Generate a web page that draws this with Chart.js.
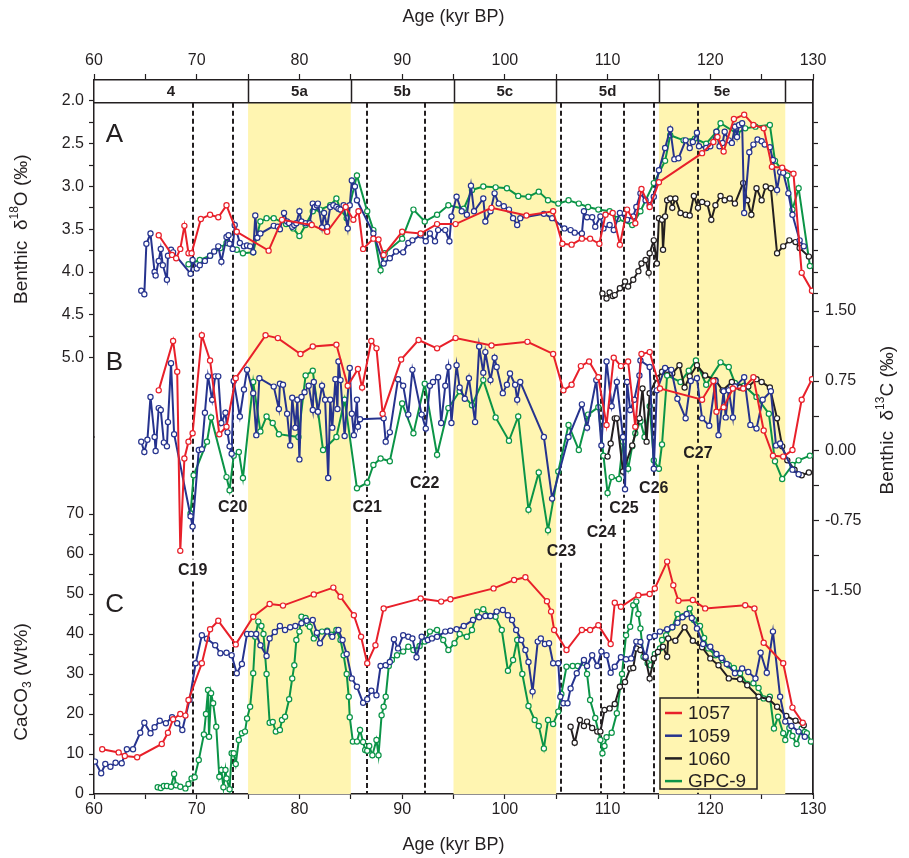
<!DOCTYPE html>
<html>
<head>
<meta charset="utf-8">
<script src="https://cdn.jsdelivr.net/npm/chart.js@4.4.1/dist/chart.umd.min.js"></script>
<style>
  html, body { margin: 0; padding: 0; background: #fff; }
  #wrap { width: 909px; height: 858px; }
</style>
</head>
<body>
<div id="wrap"><canvas id="chart" width="909" height="858"></canvas></div>
<script>
// ---- data: [age (kyr BP), value] ----

// Panel A: benthic d18O (permil)
const d18O_1057 = [[66.3,3.57],[67.6,3.80],[68.0,3.84],[68.4,3.73],[68.8,3.46],[69.2,3.78],[69.5,3.78],[70.4,3.38],[71.3,3.33],[72.1,3.36],[72.9,3.22],[73.9,3.53],[77.0,3.75],[78.3,3.39],[81.2,3.45],[82.7,3.53],[84.5,3.24],[85.25,3.39],[85.75,3.29],[86.2,3.73],[87.2,3.61],[87.7,3.62],[88.2,3.80],[90.0,3.53],[91.8,3.55],[93.4,3.44],[95.2,3.44],[98.7,3.25],[102.1,3.34],[104.7,3.29],[105.6,3.67],[106.5,3.68],[107.5,3.61],[108.3,3.61],[109.2,3.67],[109.8,3.33],[110.5,3.31],[111.2,3.68],[111.9,3.27],[112.7,3.43],[113.3,3.03],[114.1,3.24],[115.0,2.95],[119.2,2.61],[120.3,2.48],[120.7,2.42],[121.3,2.59],[122.3,2.21],[123.3,2.16],[124.2,2.28],[125.2,2.32],[126.0,2.77],[127.0,2.78],[128.1,2.85],[128.9,4.01],[129.9,4.22]];
const d18O_1059 = [[64.6,4.22],[64.9,4.26],[65.1,3.67],[65.5,3.55],[65.9,4.00],[66.0,4.04],[66.3,3.87],[66.5,3.73],[66.7,3.92],[67.1,4.09],[67.2,3.81],[67.5,3.74],[67.7,3.77],[69.4,4.02],[69.6,3.86],[70.0,3.96],[70.3,3.92],[70.8,3.87],[71.3,3.81],[71.7,3.76],[72.1,3.70],[72.4,3.88],[72.9,3.59],[73.1,3.57],[73.2,3.67],[73.5,3.73],[73.7,3.45],[74.2,3.66],[74.6,3.70],[74.9,3.69],[75.2,3.70],[75.5,3.77],[75.7,3.34],[75.9,3.60],[76.2,3.55],[77.5,3.46],[77.9,3.47],[78.1,3.50],[78.5,3.31],[78.8,3.41],[79.0,3.43],[79.3,3.47],[79.5,3.45],[79.7,3.43],[80.0,3.29],[80.2,3.41],[80.6,3.43],[81.0,3.43],[81.3,3.20],[81.5,3.24],[81.7,3.22],[81.8,3.20],[82.2,3.48],[82.4,3.31],[82.7,3.47],[83.0,3.24],[83.3,3.22],[83.6,3.24],[83.8,3.26],[84.0,3.27],[84.3,3.22],[84.7,3.49],[84.9,3.22],[85.1,2.93],[85.4,3.00],[85.6,3.16],[87.2,3.55],[88.2,3.90],[88.8,3.84],[89.4,3.76],[90.1,3.77],[90.6,3.66],[91.0,3.63],[91.8,3.57],[92.3,3.64],[92.7,3.55],[93.2,3.64],[93.5,3.51],[94.2,3.51],[94.6,3.64],[94.8,3.35],[95.3,3.12],[95.8,3.29],[96.3,3.33],[96.7,2.99],[97.0,3.29],[97.9,3.14],[98.1,3.41],[98.6,3.29],[99.0,3.08],[99.4,3.20],[99.9,3.23],[100.4,3.27],[100.8,3.37],[101.2,3.45],[101.5,3.37],[103.8,3.32],[104.6,3.37],[105.8,3.49],[106.4,3.51],[106.8,3.54],[107.5,3.55],[107.7,3.29],[108.0,3.36],[108.5,3.36],[108.8,3.47],[109.3,3.35],[109.6,3.49],[110.2,3.45],[110.6,3.51],[111.2,3.31],[111.9,3.39],[112.5,3.35],[112.8,3.24],[113.2,3.08],[113.7,3.16],[114.1,3.22],[114.5,3.12],[115.0,2.81],[115.6,2.55],[116.1,2.33],[116.5,2.68],[116.9,2.67],[117.6,2.46],[118.0,2.55],[118.3,2.48],[118.7,2.37],[118.9,2.53],[119.6,2.55],[120.0,2.53],[120.6,2.36],[120.9,2.53],[121.2,2.49],[121.4,2.36],[121.8,2.46],[122.1,2.49],[122.4,2.30],[122.6,2.42],[122.8,2.28],[123.1,2.26],[123.3,3.31],[123.8,2.60],[124.2,2.51],[124.6,2.45],[125.0,2.47],[125.3,2.51],[125.8,2.54],[126.1,2.69],[126.5,3.04],[126.8,2.83],[127.1,2.84],[127.6,3.08],[128.0,3.33],[128.7,3.63],[129.1,3.70]];
const d18O_1060 = [[109.5,4.25],[109.9,4.31],[110.2,4.24],[110.5,4.28],[110.7,4.27],[111.2,4.19],[111.7,4.11],[112.0,4.17],[112.5,4.09],[113.0,3.99],[113.3,3.90],[113.7,3.86],[114.0,4.01],[114.1,3.78],[114.5,3.63],[114.8,3.90],[115.0,3.37],[115.3,3.39],[115.4,3.74],[115.6,3.35],[115.8,3.16],[116.1,3.14],[116.3,3.25],[116.6,3.14],[117.1,3.31],[117.6,3.33],[118.0,3.34],[118.4,3.11],[118.8,3.25],[119.2,3.18],[119.7,3.20],[120.1,3.39],[120.5,3.22],[121.0,3.11],[121.4,3.16],[121.9,3.14],[122.4,3.20],[123.2,2.96],[123.6,3.16],[124.0,3.33],[124.5,3.02],[125.0,3.16],[125.4,3.00],[125.9,3.02],[126.5,3.78],[127.1,3.70],[127.7,3.63],[128.3,3.65],[128.7,3.72],[129.6,3.82]];
const d18O_GPC9 = [[69.2,3.91],[70.3,3.86],[71.3,3.81],[72.3,3.72],[72.9,3.66],[73.9,3.74],[74.5,3.78],[75.5,3.77],[76.2,3.41],[76.8,3.37],[77.5,3.37],[78.7,3.44],[79.4,3.49],[80.0,3.58],[80.6,3.45],[81.3,3.29],[82.0,3.27],[83.0,3.22],[83.6,3.14],[84.0,3.27],[84.6,3.37],[85.6,2.87],[86.6,3.29],[87.2,3.51],[87.9,3.98],[88.3,3.78],[90.0,3.61],[91.1,3.27],[92.2,3.41],[93.4,3.33],[94.5,3.22],[96.0,3.26],[96.8,3.04],[97.9,3.00],[99.1,3.01],[100.2,3.02],[101.3,3.11],[102.3,3.12],[103.3,3.06],[104.2,3.16],[105.2,3.20],[106.2,3.16],[107.2,3.20],[108.1,3.24],[109.1,3.27],[110.2,3.29],[111.0,3.38],[112.4,3.45],[113.2,3.29],[114.5,2.96],[115.6,2.70],[116.1,2.40],[117.4,2.46],[118.5,2.44],[119.6,2.50],[120.6,2.36],[121.0,2.26],[122.6,2.38],[123.4,2.32],[124.4,2.30],[125.8,2.28],[126.3,2.70],[127.0,2.81],[127.5,2.87],[128.0,3.27],[128.6,3.02],[129.7,3.93]];

// Panel B: benthic d13C (permil)
const d13C_1057 = [[66.3,0.65],[67.7,1.18],[68.1,0.85],[68.4,-1.07],[68.8,-0.08],[69.2,0.10],[69.6,0.19],[70.5,1.24],[71.3,0.97],[72.2,0.18],[72.9,0.26],[73.8,0.78],[76.7,1.24],[77.9,1.21],[80.1,1.04],[81.3,1.12],[83.6,1.14],[84.7,0.70],[85.7,0.88],[86.1,0.68],[87.0,1.18],[87.5,1.10],[88.1,0.40],[89.9,0.98],[91.6,1.19],[93.4,1.10],[95.2,1.21],[98.7,1.13],[102.2,1.17],[104.7,1.04],[105.7,0.65],[106.5,0.71],[107.4,0.91],[108.2,0.96],[109.1,0.79],[109.9,0.28],[110.6,1.00],[111.3,0.91],[112.0,0.96],[112.7,0.26],[113.3,1.04],[114.1,1.06],[115.1,0.67],[119.2,0.55],[120.3,0.75],[120.6,0.42],[121.3,0.47],[122.2,0.67],[123.2,0.67],[124.2,0.79],[125.2,0.22],[126.1,-0.05],[127.1,-0.06],[128.0,0.01],[128.9,0.55],[129.9,0.77]];
const d13C_1059 = [[64.6,0.10],[64.9,-0.01],[65.2,0.12],[65.5,0.58],[65.9,0.15],[66.0,0.00],[66.3,0.46],[66.5,0.44],[66.8,0.09],[67.1,0.05],[67.2,0.31],[67.5,0.94],[67.8,0.18],[69.4,-0.70],[69.6,-0.81],[70.2,0.01],[70.5,0.02],[70.8,0.41],[71.1,0.80],[71.5,0.55],[71.8,0.80],[72.1,0.80],[72.4,0.30],[72.8,0.41],[73.0,0.20],[73.2,0.05],[73.4,-0.03],[73.6,0.75],[74.2,0.37],[74.6,0.66],[74.9,0.87],[75.5,0.62],[75.8,0.17],[76.1,0.78],[77.5,0.69],[78.0,0.45],[78.1,0.72],[78.4,0.71],[78.8,0.40],[79.1,0.06],[79.3,0.57],[79.6,0.25],[79.8,0.55],[80.0,-0.09],[80.2,0.58],[80.5,0.63],[80.9,0.70],[81.3,0.44],[81.4,0.74],[81.8,0.42],[82.2,0.70],[82.5,0.55],[82.8,-0.29],[83.0,0.55],[83.2,0.25],[83.5,0.77],[83.7,0.45],[83.8,0.96],[84.0,0.76],[84.4,0.16],[84.9,0.89],[85.1,0.40],[85.3,0.17],[85.6,0.55],[85.7,0.26],[85.9,0.34],[88.2,0.35],[88.4,0.10],[88.8,0.20],[89.6,0.77],[90.1,0.70],[90.6,0.39],[91.0,0.87],[91.9,0.39],[92.3,0.24],[92.7,0.70],[93.0,0.74],[93.5,0.79],[93.8,0.30],[94.2,0.70],[94.5,0.90],[94.8,0.30],[95.3,0.92],[95.6,0.68],[96.1,0.56],[96.5,0.78],[97.1,0.31],[97.5,1.12],[97.9,0.84],[98.1,1.06],[98.6,0.76],[99.0,1.00],[99.2,0.90],[99.8,0.62],[100.2,0.71],[100.5,0.83],[101.0,0.71],[101.2,0.55],[101.5,0.74],[103.8,0.15],[104.6,-0.51],[106.2,0.15],[107.5,0.50],[108.0,0.25],[108.9,0.76],[109.4,0.06],[109.9,0.96],[110.4,0.48],[110.9,0.74],[111.5,0.15],[111.7,-0.41],[111.9,0.74],[112.2,0.44],[112.6,0.55],[113.1,0.81],[113.2,0.97],[114.1,0.90],[114.5,-0.19],[114.8,0.65],[115.6,0.89],[116.2,0.87],[116.8,0.56],[117.6,0.35],[118.1,0.75],[118.7,0.78],[119.2,0.35],[119.9,0.27],[120.5,0.75],[120.8,0.17],[121.3,0.64],[121.5,0.36],[121.8,0.65],[122.2,0.36],[122.4,0.69],[123.3,0.79],[123.9,0.28],[124.5,0.24],[125.1,0.55],[125.9,0.64],[126.4,0.06],[126.8,0.08],[128.0,-0.20],[128.6,-0.25]];
const d13C_1060 = [[110.0,-0.06],[110.3,0.08],[110.7,0.35],[110.9,0.35],[111.5,-0.22],[112.4,0.06],[113.1,0.35],[113.4,0.67],[113.8,0.10],[114.1,0.62],[114.8,0.78],[115.3,0.85],[115.8,0.87],[116.3,0.83],[117.0,0.92],[117.5,0.68],[118.0,0.80],[118.7,0.92],[119.5,0.81],[120.5,0.76],[121.2,0.65],[122.1,0.74],[122.9,0.68],[123.7,0.69],[124.5,0.77],[125.0,0.74],[125.8,0.68],[126.5,0.35],[127.0,0.05],[127.5,-0.10],[128.2,-0.20],[128.9,-0.26],[129.6,-0.23]];
const d13C_GPC9 = [[69.4,-0.67],[69.7,-0.26],[71.0,0.10],[71.4,0.36],[72.9,-0.28],[73.2,-0.42],[73.6,-0.05],[74.1,-0.01],[74.5,-0.29],[75.5,0.74],[76.2,0.21],[76.8,0.37],[77.4,0.30],[78.0,0.18],[79.9,0.15],[80.6,0.81],[81.3,0.86],[82.3,0.01],[83.6,0.15],[84.4,0.55],[85.6,-0.40],[86.6,-0.34],[87.2,-0.15],[87.9,-0.08],[88.8,-0.11],[90.0,0.51],[91.1,0.19],[92.2,0.72],[93.4,-0.04],[94.5,0.46],[95.6,0.64],[96.8,0.49],[97.9,0.76],[99.1,0.36],[100.4,0.11],[101.3,0.37],[102.3,-0.63],[103.3,-0.23],[104.2,-0.85],[105.2,-0.22],[106.2,0.28],[107.2,0.01],[108.1,0.39],[109.1,0.47],[109.6,-0.05],[110.0,-0.45],[110.4,-0.28],[111.1,-0.30],[111.5,0.10],[112.0,-0.19],[112.4,0.05],[112.7,0.19],[113.2,0.32],[113.6,0.15],[114.1,0.48],[114.5,-0.10],[115.0,-0.19],[115.3,0.07],[115.8,0.81],[117.1,0.74],[117.9,0.86],[118.6,0.97],[119.6,0.71],[121.0,0.95],[121.8,0.90],[122.4,0.73],[123.3,0.70],[124.5,0.58],[125.7,0.40],[126.3,-0.11],[127.0,-0.30],[128.0,-0.15],[128.6,-0.10],[129.7,-0.05]];

// Panel C: CaCO3 (wt%)
const caco3_1057 = [[60.8,11.2],[62.4,10.4],[63.0,9.5],[64.2,9.2],[66.6,12.5],[67.2,15.3],[67.7,18.7],[68.4,20.0],[68.9,19.6],[69.2,23.5],[70.5,32.7],[71.3,41.2],[72.1,43.3],[73.8,37.4],[75.5,44.3],[77.1,47.5],[78.4,47.1],[81.4,49.9],[83.3,51.6],[84.0,49.3],[85.3,44.7],[86.0,39.3],[86.6,32.7],[87.4,37.2],[88.2,46.4],[91.8,48.9],[93.8,48.1],[94.7,48.7],[98.9,51.4],[100.9,53.5],[102.0,54.2],[104.1,48.2],[104.5,45.6],[104.8,41.0],[106.0,36.0],[107.5,41.0],[108.3,41.0],[109.1,42.2],[110.3,37.5],[110.7,47.8],[111.3,46.8],[113.0,49.7],[114.1,50.0],[114.6,51.4],[115.8,58.1],[116.4,52.2],[116.9,48.3],[118.3,48.5],[119.5,46.4],[123.4,47.2],[124.3,46.4],[125.2,37.8],[127.1,32.7],[128.0,21.6],[129.0,17.8]];
const caco3_1059 = [[60.1,8.1],[60.7,5.2],[61.1,7.5],[61.6,6.8],[62.1,7.8],[62.7,7.7],[63.2,11.2],[63.8,11.2],[64.5,15.3],[64.9,17.8],[65.5,15.2],[65.9,16.7],[66.4,18.3],[67.0,17.7],[67.6,19.2],[68.1,17.7],[68.6,16.0],[69.3,23.5],[69.9,32.7],[70.5,39.7],[71.0,38.8],[71.8,37.2],[72.3,35.2],[72.9,35.3],[73.4,34.7],[73.9,30.2],[74.4,32.5],[74.9,40.0],[75.3,40.0],[75.8,40.0],[76.2,37.2],[76.8,34.5],[77.1,38.9],[77.6,40.5],[78.1,42.0],[78.6,41.0],[79.1,41.7],[79.6,42.0],[80.2,42.7],[80.7,43.3],[81.3,43.5],[81.7,40.3],[82.0,37.7],[82.7,40.6],[83.2,39.3],[83.8,41.0],[84.2,38.5],[84.6,35.0],[85.1,28.9],[85.6,26.8],[86.2,22.8],[86.6,23.7],[87.0,25.8],[87.5,24.7],[87.9,32.0],[88.4,32.2],[88.8,33.0],[89.2,38.7],[89.6,36.4],[90.1,39.7],[90.6,39.3],[91.0,38.9],[91.4,34.2],[91.9,39.3],[92.5,38.5],[92.9,38.9],[93.4,39.3],[94.2,40.6],[94.7,40.8],[95.3,41.2],[96.0,42.0],[96.9,43.5],[97.5,44.2],[98.1,44.5],[98.6,44.5],[99.2,45.6],[99.8,46.0],[100.3,44.7],[100.7,43.5],[101.1,41.0],[101.6,38.5],[102.0,36.0],[102.3,33.0],[102.7,25.6],[103.2,38.1],[103.5,38.9],[103.9,37.5],[104.3,37.7],[104.7,32.7],[105.2,32.7],[105.4,24.3],[105.7,22.7],[106.1,22.7],[106.4,26.4],[107.0,30.2],[107.7,33.5],[108.0,32.0],[108.5,34.7],[109.0,32.0],[109.4,35.6],[109.9,34.7],[110.3,30.3],[110.7,31.8],[111.3,34.2],[111.8,33.7],[112.3,33.9],[112.8,38.1],[113.2,38.0],[113.7,34.3],[114.1,39.2],[114.6,39.5],[115.1,40.6],[115.8,41.2],[116.3,41.7],[116.8,42.8],[117.3,44.2],[117.7,45.0],[118.2,44.0],[118.7,41.4],[119.3,37.5],[120.0,36.8],[120.6,35.0],[121.1,34.0],[121.6,32.5],[122.4,30.2],[123.1,31.4],[123.7,30.5],[124.4,28.9],[124.9,35.3],[125.5,30.3],[126.1,40.6],[126.8,24.3],[127.3,18.1],[127.9,17.0],[128.6,15.6],[129.2,14.3]];
const caco3_1060 = [[106.4,16.8],[106.8,12.8],[107.3,18.5],[107.7,17.0],[108.0,18.1],[108.5,16.5],[109.0,15.6],[109.3,15.6],[109.7,21.0],[110.2,21.4],[110.7,22.5],[111.2,26.8],[111.7,28.0],[112.2,31.4],[112.5,31.5],[112.8,36.4],[113.2,36.0],[113.7,34.0],[114.1,28.9],[114.5,33.9],[114.9,35.5],[115.4,36.8],[115.8,34.3],[115.9,38.9],[116.6,38.3],[117.5,41.7],[118.3,38.3],[119.2,36.7],[120.0,33.9],[120.8,32.2],[121.8,28.9],[122.9,28.7],[123.6,27.2],[124.7,24.3],[125.7,23.7],[126.5,21.8],[127.4,19.5],[128.3,18.3],[129.1,17.2]];
const caco3_GPC9 = [[66.2,1.7],[66.5,1.5],[66.8,2.0],[67.1,2.0],[67.5,1.8],[67.8,5.0],[68.0,2.2],[68.4,1.8],[68.9,1.4],[69.2,2.5],[69.5,3.9],[69.8,4.2],[70.2,8.5],[70.7,14.9],[70.9,20.0],[71.1,26.0],[71.2,14.3],[71.4,25.2],[71.6,22.7],[71.9,16.8],[72.2,4.3],[72.4,6.0],[72.6,1.7],[72.8,6.0],[72.9,3.9],[73.2,1.2],[73.4,10.2],[73.6,10.2],[73.8,7.5],[74.1,13.5],[74.4,15.2],[74.7,15.6],[74.9,18.9],[75.2,21.8],[75.5,30.2],[75.7,39.3],[76.0,43.1],[76.3,42.0],[76.5,40.0],[76.8,30.0],[77.1,17.8],[77.4,18.0],[77.7,15.6],[78.1,16.0],[78.3,18.5],[78.6,19.3],[79.0,23.7],[79.3,28.9],[79.5,32.2],[79.7,38.5],[80.0,40.6],[80.2,44.3],[80.6,44.0],[80.8,42.5],[81.0,41.8],[81.4,38.9],[81.7,39.8],[82.2,40.6],[82.7,40.8],[83.1,39.8],[83.6,41.0],[84.0,38.5],[84.3,34.7],[84.6,30.0],[84.8,24.3],[84.9,19.2],[85.2,13.1],[85.6,13.1],[85.9,16.0],[86.2,13.0],[86.4,11.0],[86.6,10.8],[86.8,12.0],[87.1,9.7],[87.5,13.5],[87.7,9.7],[88.0,19.7],[88.2,21.8],[88.4,24.3],[88.7,32.0],[89.0,33.5],[89.5,34.7],[90.1,35.6],[90.6,36.8],[91.1,36.0],[91.7,37.0],[92.2,38.1],[92.7,40.6],[93.4,41.0],[94.0,38.5],[94.5,36.0],[95.1,37.7],[95.6,40.0],[96.3,39.3],[96.8,41.0],[97.3,45.6],[97.9,46.2],[98.5,44.5],[99.1,44.3],[99.7,41.0],[100.3,30.8],[100.8,33.5],[101.2,38.5],[101.7,30.0],[102.3,22.0],[102.9,18.5],[103.3,17.0],[103.8,11.4],[104.2,18.5],[104.7,17.5],[105.2,20.6],[105.5,25.0],[106.0,31.8],[106.6,32.0],[107.1,32.0],[107.7,32.8],[108.0,30.0],[108.3,23.5],[108.8,19.0],[109.3,13.5],[109.5,10.2],[109.7,12.0],[109.9,14.2],[110.4,15.3],[110.9,20.2],[111.4,30.0],[111.8,39.7],[112.2,41.8],[112.5,47.2],[112.8,48.1],[113.0,45.0],[113.2,41.4],[113.5,34.3],[113.9,32.7],[114.2,32.2],[114.6,35.0],[115.1,36.4],[115.3,38.5],[115.7,39.7],[116.3,41.7],[116.8,45.0],[117.4,44.5],[118.0,46.4],[118.4,43.5],[119.0,42.0],[119.4,39.0],[119.8,36.4],[120.5,34.7],[121.2,33.5],[121.8,32.2],[122.3,31.5],[122.9,30.2],[123.6,27.5],[124.2,27.7],[124.7,26.5],[125.2,23.9],[125.8,24.3],[126.2,16.4],[126.6,19.3],[127.1,15.2],[127.3,13.5],[127.7,16.5],[128.0,14.5],[128.4,12.5],[128.9,16.4],[129.2,15.5],[129.4,15.2],[129.8,13.1]];

// Marine isotope substages (top strip) and warm substages (shaded)
const stageNames = ['4', '5a', '5b', '5c', '5d', '5e'];
const stageBounds = [60, 75, 85, 95, 105, 115, 127.3];
const warmBands = [[75, 85], [95, 105], [115, 127.3]];

// Cold events C19..C27: age of dashed line, label position in d13C units
const eventNames = ['C19', 'C20', 'C21', 'C22', 'C23', 'C24', 'C25', 'C26', 'C27'];
const eventAges = [69.6, 73.5, 86.6, 92.2, 105.5, 109.4, 111.6, 114.5, 118.8];
const eventLabelD13C = [-1.28, -0.61, -0.61, -0.35, -1.08, -0.87, -0.62, -0.40, -0.03];

// Axis ticks
const ageTicks = [60, 65, 70, 75, 80, 85, 90, 95, 100, 105, 110, 115, 120, 125, 130];
const d18OTicks = [2.0, 2.25, 2.5, 2.75, 3.0, 3.25, 3.5, 3.75, 4.0, 4.25, 4.5, 4.75, 5.0];
const d18ORightTicks = [2.25, 2.5, 2.75, 3.0, 3.25, 3.5, 3.75, 4.0, 4.25];
const d13CTicks = [1.5, 1.125, 0.75, 0.375, 0, -0.375, -0.75, -1.125, -1.5];
const caco3Ticks = [0, 5, 10, 15, 20, 25, 30, 35, 40, 45, 50, 55, 60, 65, 70];

const seriesNames = ['1057', '1059', '1060', 'GPC-9'];
const COLORS = { '1057': '#E8202A', '1059': '#26338E', '1060': '#231F20', 'GPC-9': '#0B9447' };
const FONT = "'Liberation Sans', Arial, Helvetica, sans-serif";
const INK = '#231F20';
const BAND = '#FFF5B1';

Chart.defaults.font.family = FONT;
Chart.defaults.color = INK;

function series(label, pts, axis) {
    const color = COLORS[label];
    return {
        label: label,
        yAxisID: axis,
        xAxisID: 'x',
        data: pts.map(p => ({ x: p[0], y: p[1] })),
        borderColor: color,
        backgroundColor: '#fff',
        borderWidth: 2,
        pointRadius: 2.6,
        pointHoverRadius: 2.6,
        pointBorderWidth: 1.2,
        pointBackgroundColor: '#fff',
        pointBorderColor: color,
        tension: 0,
        fill: false
    };
}

// fixed-size axes so the plot frame sits where the original one does
const fixWidth = w => scale => { scale.width = w; };
const fixHeight = h => scale => { scale.height = h; };
const useTicks = list => axis => { axis.ticks = list.map(v => ({ value: v })); };

function tickAxisStyle(len) {
    return {
        grid: { display: true, drawOnChartArea: false, drawTicks: true, tickLength: len, color: INK, tickWidth: 1.2 },
        border: { display: true, color: INK, width: 1.5 }
    };
}

// text with super/subscripts: parts = [[text, 'n'|'sup'|'sub'], ...]
function drawRich(ctx, parts, x, y, size, rotation) {
    ctx.save();
    ctx.translate(x, y);
    ctx.rotate(rotation);
    const fontFor = kind => (kind === 'n' ? size : Math.round(size * 0.62)) + 'px ' + FONT;
    let total = 0;
    parts.forEach(([t, k]) => { ctx.font = fontFor(k); total += ctx.measureText(t).width; });
    let cx = -total / 2;
    ctx.textBaseline = 'middle';
    ctx.textAlign = 'left';
    ctx.fillStyle = INK;
    parts.forEach(([t, k]) => {
        ctx.font = fontFor(k);
        const dy = k === 'sup' ? -size * 0.38 : (k === 'sub' ? size * 0.28 : 0);
        ctx.fillText(t, cx, dy);
        cx += ctx.measureText(t).width;
    });
    ctx.restore();
}

const decorPlugin = {
    id: 'decor',
    beforeDatasetsDraw(chart) {
        const { ctx, chartArea, scales } = chart;
        const x = scales.x;
        const stripTop = chartArea.top;
        const stripBottom = scales.yA.getPixelForValue(2.02);
        ctx.save();
        // warm substages
        ctx.fillStyle = BAND;
        warmBands.forEach(([a, b]) => {
            const x1 = x.getPixelForValue(a), x2 = x.getPixelForValue(b);
            ctx.fillRect(x1, stripBottom, x2 - x1, chartArea.bottom - stripBottom);
        });
        // substage strip
        ctx.strokeStyle = INK;
        ctx.lineWidth = 1.5;
        ctx.beginPath();
        ctx.moveTo(chartArea.left, stripBottom);
        ctx.lineTo(chartArea.right, stripBottom);
        stageBounds.slice(1).forEach(v => {
            const px = Math.round(x.getPixelForValue(v)) + 0.5;
            ctx.moveTo(px, stripTop);
            ctx.lineTo(px, stripBottom);
        });
        ctx.stroke();
        ctx.fillStyle = INK;
        ctx.font = 'bold 15px ' + FONT;
        ctx.textAlign = 'center';
        ctx.textBaseline = 'middle';
        stageNames.forEach((n, i) => {
            const cx = (x.getPixelForValue(stageBounds[i]) + x.getPixelForValue(stageBounds[i + 1])) / 2;
            ctx.fillText(n, cx, (stripTop + stripBottom) / 2 + 1);
        });
        // event lines, broken where the label sits
        ctx.setLineDash([5, 3]);
        ctx.lineWidth = 2;
        eventAges.forEach((age, i) => {
            const px = Math.round(x.getPixelForValue(age));
            const ly = scales.yB.getPixelForValue(eventLabelD13C[i]);
            ctx.beginPath();
            ctx.moveTo(px, stripBottom);
            ctx.lineTo(px, ly - 11);
            ctx.moveTo(px, ly + 11);
            ctx.lineTo(px, chartArea.bottom);
            ctx.stroke();
        });
        ctx.restore();
    },
    afterDatasetsDraw(chart) {
        const { ctx, chartArea, scales } = chart;
        const x = scales.x;
        ctx.save();
        ctx.fillStyle = INK;
        ctx.textAlign = 'center';
        ctx.textBaseline = 'middle';
        ctx.font = 'bold 16px ' + FONT;
        eventNames.forEach((n, i) => {
            ctx.fillText(n, x.getPixelForValue(eventAges[i]), scales.yB.getPixelForValue(eventLabelD13C[i]));
        });
        // panel letters
        ctx.font = '26px ' + FONT;
        const lx = x.getPixelForValue(62.0);
        ctx.fillText('A', lx, scales.yA.getPixelForValue(2.4));
        ctx.fillText('B', lx, scales.yB.getPixelForValue(0.95));
        ctx.fillText('C', lx, scales.yC.getPixelForValue(47.3));
        // legend
        const bx = chartArea.left + 566, by = chartArea.top + 618, bw = 97, bh = 91;
        ctx.fillStyle = BAND;
        ctx.fillRect(bx, by, bw, bh);
        ctx.strokeStyle = INK;
        ctx.lineWidth = 1.5;
        ctx.strokeRect(bx, by, bw, bh);
        ctx.font = '19px ' + FONT;
        ctx.textAlign = 'left';
        seriesNames.forEach((n, i) => {
            const ry = by + 15 + i * 22.7;
            ctx.strokeStyle = COLORS[n];
            ctx.lineWidth = 2.5;
            ctx.beginPath();
            ctx.moveTo(bx + 5, ry);
            ctx.lineTo(bx + 22, ry);
            ctx.stroke();
            ctx.fillStyle = INK;
            ctx.fillText(n, bx + 28, ry + 1);
        });
        ctx.restore();
    },
    afterDraw(chart) {
        const { ctx, scales } = chart;
        drawRich(ctx, [['Benthic  \u03b4', 'n'], ['18', 'sup'], ['O (\u2030)', 'n']], 22, scales.yA.getPixelForValue(3.5), 19, -Math.PI / 2);
        drawRich(ctx, [['CaCO', 'n'], ['3', 'sub'], [' (Wt%)', 'n']], 22, scales.yC.getPixelForValue(28), 19, -Math.PI / 2);
        drawRich(ctx, [['Benthic  \u03b4', 'n'], ['13', 'sup'], ['C (\u2030)', 'n']], 888, scales.yB.getPixelForValue(0.33), 19, -Math.PI / 2);
    }
};

new Chart(document.getElementById('chart'), {
    type: 'line',
    data: {
        datasets: [
            series('1057', d18O_1057, 'yA'),
            series('1057', d13C_1057, 'yB'),
            series('1057', caco3_1057, 'yC'),
            series('1059', d18O_1059, 'yA'),
            series('1059', d13C_1059, 'yB'),
            series('1059', caco3_1059, 'yC'),
            series('1060', d18O_1060, 'yA'),
            series('1060', d13C_1060, 'yB'),
            series('1060', caco3_1060, 'yC'),
            series('GPC-9', d18O_GPC9, 'yA'),
            series('GPC-9', d13C_GPC9, 'yB'),
            series('GPC-9', caco3_GPC9, 'yC')
        ]
    },
    options: {
        responsive: false,
        animation: false,
        devicePixelRatio: 1,
        layout: { padding: 0 },
        plugins: { legend: { display: false }, tooltip: { enabled: false } },
        scales: {
            x: {
                type: 'linear', axis: 'x', position: 'bottom', min: 60, max: 130,
                afterBuildTicks: useTicks(ageTicks),
                afterFit: fixHeight(64),
                ticks: { autoSkip: false, maxRotation: 0, padding: 1, font: { size: 16 }, color: INK,
                         callback: v => (v % 10 === 0 ? v : '') },
                title: { display: true, text: 'Age (kyr BP)', font: { size: 18 }, color: INK, padding: { top: 0, bottom: 2 } },
                ...tickAxisStyle(5)
            },
            x2: {
                type: 'linear', axis: 'x', position: 'top', min: 60, max: 130,
                afterBuildTicks: useTicks(ageTicks),
                afterFit: fixHeight(80),
                ticks: { autoSkip: false, maxRotation: 0, padding: 4, font: { size: 16 }, color: INK,
                         callback: v => (v % 10 === 0 ? v : '') },
                title: { display: true, text: 'Age (kyr BP)', font: { size: 18 }, color: INK, padding: { top: 6, bottom: 0 } },
                ...tickAxisStyle(6)
            },
            // left side: d18O on the upper half, CaCO3 on the lower half of one stacked column
            yA: {
                type: 'linear', axis: 'y', position: 'left', stack: 'left', stackWeight: 1, weight: 1,
                reverse: true, min: 1.7544, max: 5.9298,
                afterBuildTicks: useTicks(d18OTicks),
                afterFit: fixWidth(94),
                ticks: { autoSkip: false, padding: 5, font: { size: 16 }, color: INK,
                         callback: v => (Math.abs(v * 2 - Math.round(v * 2)) < 1e-6 ? v.toFixed(1) : '') },
                ...tickAxisStyle(5)
            },
            yC: {
                type: 'linear', axis: 'y', position: 'left', stack: 'left', stackWeight: 1, weight: 0,
                min: 0, max: 89.25,
                afterBuildTicks: useTicks(caco3Ticks),
                afterFit: fixWidth(94),
                ticks: { autoSkip: false, padding: 5, font: { size: 16 }, color: INK,
                         callback: v => (v % 10 === 0 ? String(v) : '') },
                ...tickAxisStyle(5)
            },
            yAr: {
                type: 'linear', axis: 'y', position: 'right', weight: 0, reverse: true, min: 1.7544, max: 10.105,
                afterBuildTicks: useTicks(d18ORightTicks),
                afterFit: fixWidth(0),
                ticks: { autoSkip: false, padding: 0, callback: () => '' },
                ...tickAxisStyle(5)
            },
            yB: {
                type: 'linear', axis: 'y', position: 'right', weight: 1, min: -3.6763, max: 3.9764,
                afterBuildTicks: useTicks(d13CTicks),
                afterFit: fixWidth(96),
                ticks: { autoSkip: false, padding: 6, font: { size: 16 }, color: INK,
                         callback: v => (Math.abs(v / 0.75 - Math.round(v / 0.75)) < 1e-6 ? v.toFixed(2) : '') },
                ...tickAxisStyle(6)
            }
        }
    },
    plugins: [decorPlugin]
});
</script>
</body>
</html>
